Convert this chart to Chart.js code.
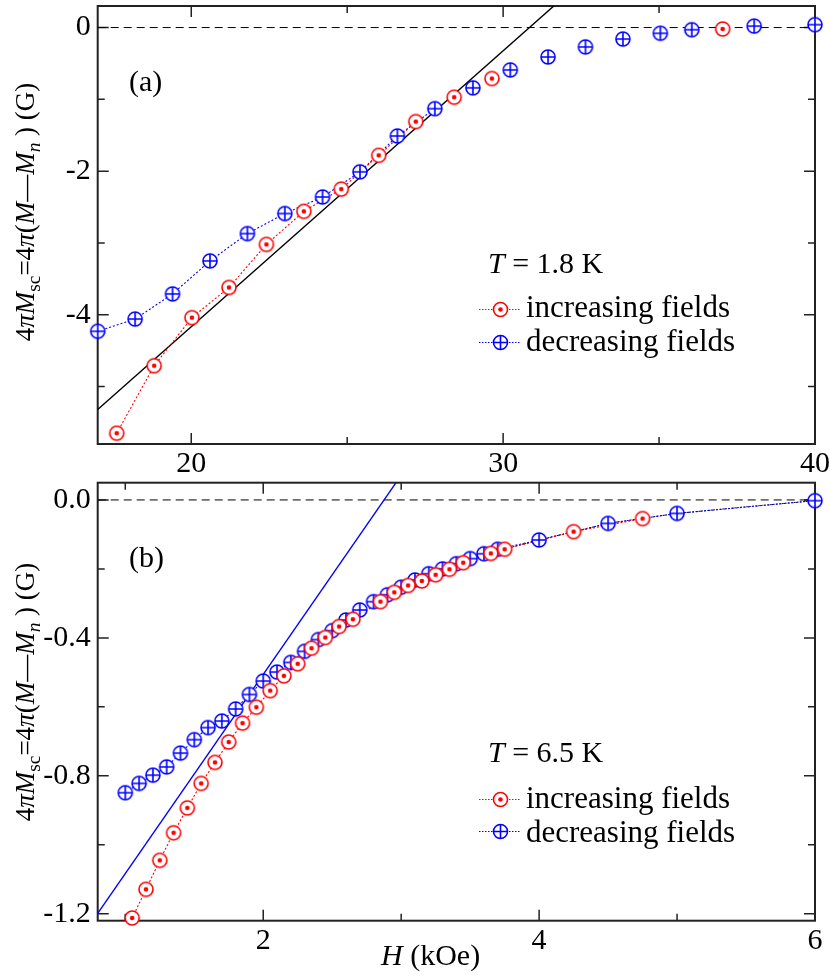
<!DOCTYPE html>
<html><head><meta charset="utf-8">
<script src="https://cdn.jsdelivr.net/npm/chart.js@4.4.1/dist/chart.umd.min.js"></script>
<style>
html,body{margin:0;padding:0;background:#fff;}
#wrap{position:relative;width:830px;height:976px;overflow:hidden;font-family:"Liberation Serif","Times New Roman",serif;color:#000;}
.pane{position:absolute;left:0;width:830px;}
.txt{position:absolute;white-space:nowrap;font-size:30px;line-height:30px;}
.legt{position:absolute;white-space:nowrap;font-size:31px;line-height:31px;}
.ytitle{position:absolute;white-space:nowrap;font-size:27px;line-height:30px;transform:translate(-50%,-50%) rotate(-90deg);}
.ytitle sub{font-size:0.72em;vertical-align:-0.3em;line-height:0;}
canvas.legm{position:absolute;}
</style>
</head><body>
<div id="wrap">
  <div class="pane" style="top:0;height:480px;"><canvas id="ca" width="830" height="480"></canvas></div>
  <div class="pane" style="top:480px;height:496px;"><canvas id="cb" width="830" height="496"></canvas></div>

  <div class="ytitle" style="left:25px;top:212px;">4<i>π</i><i>M</i><sub>sc</sub>=4<i>π</i>(<i>M</i>—<i>M</i><sub><i>n</i></sub> ) (G)</div>
  <div class="ytitle" style="left:25px;top:692px;">4<i>π</i><i>M</i><sub>sc</sub>=4<i>π</i>(<i>M</i>—<i>M</i><sub><i>n</i></sub> ) (G)</div>

  <div class="txt" style="left:129px;top:66px;">(a)</div>
  <div class="txt" style="left:129px;top:542px;">(b)</div>
  <div class="txt" style="left:488px;top:248px;"><i>T</i> = 1.8 K</div>
  <div class="txt" style="left:488px;top:737px;"><i>T</i> = 6.5 K</div>

  <canvas class="legm" id="lgA1" width="44" height="18" style="left:478px;top:300px;"></canvas>
  <div class="legt" style="left:526px;top:291px;">increasing fields</div>
  <canvas class="legm" id="lgA2" width="44" height="18" style="left:478px;top:333px;"></canvas>
  <div class="legt" style="left:526px;top:325px;">decreasing fields</div>

  <canvas class="legm" id="lgB1" width="44" height="18" style="left:478px;top:790px;"></canvas>
  <div class="legt" style="left:526px;top:782px;">increasing fields</div>
  <canvas class="legm" id="lgB2" width="44" height="18" style="left:478px;top:822px;"></canvas>
  <div class="legt" style="left:526px;top:816px;">decreasing fields</div>

  <div class="txt" style="left:381px;top:940px;"><i>H</i> (kOe)</div>
</div>
<script>
// ---------- Panel (a): T = 1.8 K ----------
const aRangeH = [17, 40];
const aRangeM = [-5.8, 0.3];
const aIncH = [17.61, 18.81, 20.02, 21.21, 22.41, 23.61, 24.81, 26.01, 27.20, 28.43, 29.64, 37.04];
const aIncM = [-5.65, -4.71, -4.04, -3.62, -3.02, -2.56, -2.25, -1.78, -1.31, -0.97, -0.71, -0.02];
const aDecH = [17.0, 18.2, 19.4, 20.6, 21.8, 23.0, 24.21, 25.41, 26.61, 27.81, 29.03, 30.23, 31.44, 32.64, 33.84, 35.04, 36.05, 38.05, 40.0];
const aDecM = [-4.23, -4.06, -3.71, -3.25, -2.87, -2.59, -2.36, -2.01, -1.51, -1.13, -0.84, -0.59, -0.41, -0.27, -0.16, -0.08, -0.03, 0.02, 0.04];
const aIncLinked = 9;   // points joined by the dotted guide
const aDecLinked = 10;
const aFitH = [17.0, 31.65];
const aFitM = [-5.32, 0.31];
const aTicksMajorH = 10, aTicksMajorM = 2;

// ---------- Panel (b): T = 6.5 K ----------
const bRangeH = [0.8, 6];
const bRangeM = [-1.22, 0.05];
const bIncH = [1.05, 1.15, 1.25, 1.35, 1.45, 1.55, 1.65, 1.75, 1.85, 1.95, 2.05, 2.15, 2.25, 2.35, 2.45, 2.55, 2.65, 2.85, 2.95, 3.05, 3.15, 3.25, 3.35, 3.45, 3.65, 3.75, 4.25, 4.75];
const bIncM = [-1.212, -1.129, -1.045, -0.965, -0.893, -0.822, -0.761, -0.702, -0.647, -0.601, -0.553, -0.510, -0.475, -0.430, -0.399, -0.367, -0.346, -0.295, -0.268, -0.248, -0.235, -0.217, -0.201, -0.182, -0.155, -0.143, -0.092, -0.054];
const bDecH = [1.0, 1.1, 1.2, 1.3, 1.4, 1.5, 1.6, 1.7, 1.8, 1.9, 2.0, 2.1, 2.2, 2.3, 2.4, 2.5, 2.6, 2.7, 2.8, 2.9, 3.0, 3.1, 3.2, 3.3, 3.4, 3.5, 3.6, 3.7, 4.0, 4.5, 5.0, 6.0];
const bDecM = [-0.849, -0.822, -0.798, -0.774, -0.734, -0.695, -0.660, -0.641, -0.606, -0.564, -0.525, -0.499, -0.471, -0.439, -0.405, -0.379, -0.348, -0.319, -0.295, -0.275, -0.253, -0.232, -0.214, -0.200, -0.185, -0.170, -0.156, -0.143, -0.116, -0.068, -0.039, -0.002];
const bFitH = [0.8, 2.963];
const bFitM = [-1.199, 0.05];
const bTailH = [3.6, 4.0, 4.5, 5.0, 5.5, 6.0];
const bTailM = [-0.156, -0.116, -0.068, -0.039, -0.020, -0.002];
const bTicksMajorH = 2, bTicksMajorM = 0.4;

const RED = '#ff0000', BLUE = '#0000ff';
const FONT = {family: '"Liberation Serif", "Times New Roman", serif', size: 30};

function pts(xs, ys) { return xs.map((x, i) => ({x: x, y: ys[i]})); }
function isMajor(v, step) { const r = v / step; return Math.abs(r - Math.round(r)) < 1e-6; }

function drawMarker(g, cx, cy, color, kind) {
  const R = 7;
  g.lineWidth = 1.6; g.strokeStyle = color; g.fillStyle = '#fff';
  g.beginPath(); g.arc(cx, cy, R, 0, 2 * Math.PI); g.fill(); g.stroke();
  if (kind === 'dot') {
    g.fillStyle = color; g.beginPath(); g.arc(cx, cy, 2.3, 0, 2 * Math.PI); g.fill();
  } else {
    g.beginPath(); g.moveTo(cx - R, cy); g.lineTo(cx + R, cy); g.moveTo(cx, cy - R); g.lineTo(cx, cy + R); g.stroke();
  }
}
function makeMarker(color, kind) {
  const c = document.createElement('canvas'); c.width = 20; c.height = 20;
  drawMarker(c.getContext('2d'), 10, 10, color, kind); return c;
}
const redMark = makeMarker(RED, 'dot');
const blueMark = makeMarker(BLUE, 'plus');

function legendMark(id, color, kind) {
  const g = document.getElementById(id).getContext('2d');
  g.strokeStyle = color; g.lineWidth = 1; g.setLineDash([1.5, 1.5]);
  g.beginPath(); g.moveTo(1, 9.5); g.lineTo(43, 9.5); g.stroke(); g.setLineDash([]);
  drawMarker(g, 22.5, 9.5, color, kind);
}
legendMark('lgA1', RED, 'dot'); legendMark('lgA2', BLUE, 'plus');
legendMark('lgB1', RED, 'dot'); legendMark('lgB2', BLUE, 'plus');

const frameTicks = {
  id: 'frameTicks',
  beforeDatasetsDraw(chart, args, opts) {
    const {ctx, chartArea: {left, right, top, bottom}} = chart;
    const xs = chart.scales.x, ys = chart.scales.y;
    ctx.save();
    ctx.strokeStyle = '#222'; ctx.lineWidth = 1.5;
    ctx.beginPath();
    for (const t of xs.ticks) {
      const p = xs.getPixelForValue(t.value);
      if (p < left + 1 || p > right - 1) continue;
      const L = isMajor(t.value, opts.xMajor) ? 11 : 7;
      ctx.moveTo(p, bottom); ctx.lineTo(p, bottom - L);
      ctx.moveTo(p, top); ctx.lineTo(p, top + L);
    }
    for (const t of ys.ticks) {
      const p = ys.getPixelForValue(t.value);
      if (p < top + 1 || p > bottom - 1) continue;
      const L = isMajor(t.value, opts.yMajor) ? 11 : 7;
      ctx.moveTo(left, p); ctx.lineTo(left + L, p);
      ctx.moveTo(right, p); ctx.lineTo(right - L, p);
    }
    ctx.stroke();
    ctx.lineWidth = 2;
    ctx.strokeRect(left, top, right - left, bottom - top);
    ctx.restore();
  }
};

function makeChart(id, cfg) {
  const xMajor = cfg.xMajor, yMajor = cfg.yMajor;
  return new Chart(document.getElementById(id), {
    type: 'scatter',
    data: {datasets: cfg.datasets},
    options: {
      responsive: false, animation: false, devicePixelRatio: 1,
      layout: {autoPadding: false, padding: {top: cfg.padTop, right: 15, left: 0, bottom: 0}},
      plugins: {legend: {display: false}, tooltip: {enabled: false}, frameTicks: {xMajor: xMajor, yMajor: yMajor}},
      scales: {
        x: {
          type: 'linear', min: cfg.xRange[0], max: cfg.xRange[1],
          grid: {display: false, drawTicks: false}, border: {display: false},
          ticks: {stepSize: xMajor / 2, includeBounds: false, autoSkip: false, maxRotation: 0, padding: 2, color: '#000', font: FONT,
                  callback: v => isMajor(v, xMajor) ? String(Math.round(v)) : ''},
          afterFit: s => { s.height = cfg.xHeight; s.paddingLeft = 0; s.paddingRight = 0; }
        },
        y: {
          type: 'linear', min: cfg.yRange[0], max: cfg.yRange[1],
          grid: {display: false, drawTicks: false}, border: {display: false},
          ticks: {stepSize: yMajor / 2, includeBounds: false, autoSkip: false, padding: 7, color: '#000', font: FONT,
                  callback: v => isMajor(v, yMajor) ? cfg.yFmt(v) : ''},
          afterFit: s => { s.width = 97.7; s.paddingTop = 0; s.paddingBottom = 0; }
        }
      }
    },
    plugins: [frameTicks]
  });
}

function markerSet(label, data, img, order) {
  return {label: label, data: data, showLine: false, pointStyle: img, pointRadius: 9, pointHoverRadius: 9, clip: false, order: order};
}
function lineSet(label, data, color, width, dash, order) {
  return {label: label, data: data, showLine: true, borderColor: color, borderWidth: width, borderDash: dash, pointRadius: 0, pointHoverRadius: 0, fill: false, tension: 0, order: order};
}

makeChart('ca', {
  xRange: aRangeH, yRange: aRangeM, xMajor: aTicksMajorH, yMajor: aTicksMajorM, padTop: 6, xHeight: 36,
  yFmt: v => String(Math.round(v)),
  datasets: [
    markerSet('increasing fields', pts(aIncH, aIncM), redMark, 0),
    markerSet('decreasing fields', pts(aDecH, aDecM), blueMark, 1),
    lineSet('inc guide', pts(aIncH.slice(0, aIncLinked), aIncM.slice(0, aIncLinked)), RED, 1.1, [2, 2], 2),
    lineSet('dec guide', pts(aDecH.slice(0, aDecLinked), aDecM.slice(0, aDecLinked)), BLUE, 1.1, [2, 2], 3),
    lineSet('linear fit', pts(aFitH, aFitM), '#000', 1.4, [], 4),
    lineSet('zero', pts(aRangeH, [0, 0]), '#000', 1, [8, 5], 5)
  ]
});

makeChart('cb', {
  xRange: bRangeH, yRange: bRangeM, xMajor: bTicksMajorH, yMajor: bTicksMajorM, padTop: 2.7, xHeight: 55.3,
  yFmt: v => Math.abs(v) < 1e-9 ? '0.0' : v.toFixed(1),
  datasets: [
    markerSet('increasing fields', pts(bIncH, bIncM), redMark, 0),
    markerSet('decreasing fields', pts(bDecH, bDecM), blueMark, 1),
    lineSet('inc guide', pts(bIncH, bIncM), RED, 1.1, [2, 2], 2),
    lineSet('dec guide', pts(bDecH, bDecM), BLUE, 1.1, [2, 2], 3),
    lineSet('tail', pts(bTailH, bTailM), '#000', 1, [1.5, 1.5], 4),
    lineSet('linear fit', pts(bFitH, bFitM), BLUE, 1.4, [], 5),
    lineSet('zero', pts(bRangeH, [0, 0]), '#000', 1, [8, 5], 6)
  ]
});
</script>
</body></html>
